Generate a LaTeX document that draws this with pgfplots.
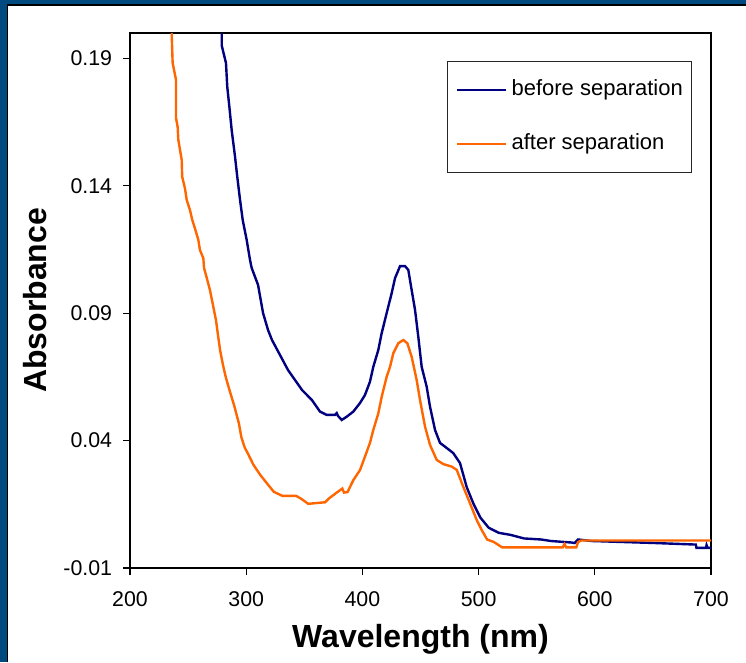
\documentclass[border=0pt]{standalone}
\usepackage{pgfplots}
\pgfplotsset{compat=1.18}
\usepackage{fontspec}
\setmainfont{Liberation Sans}
\definecolor{frameblue}{RGB}{0,74,128}
\definecolor{bluecurve}{RGB}{0,0,128}
\definecolor{orangecurve}{RGB}{255,102,0}
\begin{document}
\begin{tikzpicture}
\fill[frameblue] (0,0) rectangle (559.5pt,496.5pt);
\fill[white] (6.2pt,0) rectangle (559.5pt,492.2pt);
\draw[black, line width=1.1pt] (5.6pt,0) -- (5.6pt,492.8pt) -- (559.5pt,492.8pt);
\begin{axis}[
  at={(97.5pt,70.5pt)}, anchor=south west,
  scale only axis, width=435.75pt, height=401.25pt,
  xmin=200, xmax=700, ymin=-0.01, ymax=0.2,
  xtick={200,300,400,500,600,700}, xticklabels={200,300,400,500,600,700},
  ytick={-0.01,0.04,0.09,0.14,0.19}, yticklabels={-0.01,0.04,0.09,0.14,0.19},
  tick align=outside, xtick pos=bottom, ytick pos=left,
  major tick length=5.25pt,
  axis line style={line width=1.5pt},
  every tick/.style={black, line width=0.8pt},
  tick label style={font=\fontsize{16}{19}\selectfont},
  xticklabel style={anchor=north, inner sep=0pt, yshift=-12pt},
  yticklabel style={anchor=east, inner sep=0pt, xshift=-8pt},
  xlabel={\textbf{Wavelength (nm)}},
  ylabel={\textbf{Absorbance}},
  label style={font=\fontsize{24}{28}\selectfont},
  xlabel style={at={(axis description cs:0.5,-0.1477)}, anchor=base},
  ylabel style={at={(axis description cs:-0.1429,0.5)}, anchor=base},
  legend style={at={(axis description cs:0.9673,0.9477)}, anchor=north east,
    draw=black!85, line width=0.75pt, inner xsep=6.5pt, inner ysep=13.5pt,
    font=\fontsize{16.5}{19}\selectfont, row sep=25pt, column sep=3.75pt,
    nodes={inner sep=0pt, text height=12pt, text depth=3.5pt, anchor=west}},
  legend cell align=left,
]
\addlegendimage{bluecurve, legend image code/.code={\draw[draw=bluecurve, line width=1.2pt] (0pt,0pt) -- (36.75pt,0pt);}}
\addlegendentry{before separation}
\addlegendimage{orangecurve, legend image code/.code={\draw[draw=orangecurve, line width=1.2pt] (0pt,0pt) -- (36.75pt,0pt);}}
\addlegendentry{after separation}
\addplot[bluecurve, line width=1.8pt, forget plot] coordinates {
(278.8,0.207) (279.0,0.195) (282.6,0.1882) (283.7,0.1789) (285.5,0.1711)
(287.5,0.1619) (290.4,0.1514) (292.3,0.1436) (294.7,0.1345) (297.0,0.1266)
(300.4,0.1188) (303.3,0.1109) (304.7,0.1078) (310.2,0.1011) (314.5,0.0901)
(318.8,0.0834) (322.2,0.0795) (329.1,0.0736) (336.0,0.0677) (342.0,0.0638)
(348.0,0.0599) (356.6,0.0559) (363.5,0.0514) (369.3,0.0501) (376.4,0.0501)
(377.9,0.0508) (379.0,0.0497) (382.2,0.0481) (386.5,0.0494) (392.2,0.0514)
(398.0,0.0548) (402.2,0.0579) (406.5,0.0631) (409.4,0.0690) (413.7,0.0756)
(416.6,0.0822) (420.9,0.0901) (425.2,0.0979) (428.1,0.1038) (432.4,0.1085)
(436.7,0.1085) (439.5,0.1070) (442.4,0.0991) (445.3,0.0913) (448.1,0.0808)
(451.0,0.0690) (455.3,0.0612) (458.2,0.0533) (462.5,0.0442) (466.8,0.0391)
(472.6,0.0371) (478.2,0.0351) (484.0,0.0312) (489.8,0.0217) (495.7,0.0151)
(501.5,0.0098) (508.7,0.0058) (517.4,0.0038) (527.5,0.0030) (539.1,0.0016)
(553.7,0.0012) (562.3,0.0006) (580.0,0.0000) (582.6,-0.0002) (585.6,0.0012)
(597.1,0.0006) (652.1,-0.0002) (686.9,-0.0008) (687.5,-0.0021) (695.7,-0.0021)
(696.2,-0.0010) (697.1,-0.0021) (700,-0.0021)
};
\addplot[orangecurve, line width=1.8pt, forget plot] coordinates {
(235.8,0.207) (235.9,0.1992) (236.7,0.1882) (239.6,0.1816) (239.6,0.1666)
(241.0,0.1632) (241.6,0.1580) (244.5,0.1502) (244.9,0.1436) (247.3,0.1390)
(248.8,0.1345) (251.6,0.1305) (253.6,0.1266) (255.9,0.1233) (258.8,0.1188)
(260.2,0.1148) (263.1,0.1116) (263.7,0.1078) (265.4,0.1050) (268.8,0.0991)
(271.4,0.0932) (274.0,0.0873) (275.7,0.0815) (277.5,0.0756) (280.0,0.0697)
(282.6,0.0646) (286.1,0.0591) (289.5,0.0540) (293.7,0.0468) (295.8,0.0414)
(298.7,0.0373) (301.7,0.0347) (306.1,0.0306) (312.0,0.0266) (317.9,0.0232)
(323.8,0.0199) (331.2,0.0183) (343.0,0.0183) (347.3,0.0172) (353.3,0.0152)
(368.0,0.0158) (370.9,0.0172) (377.3,0.0194) (382.7,0.0212) (384.2,0.0196)
(387.2,0.0198) (392.2,0.0245) (398.0,0.0285) (402.2,0.0337) (406.5,0.0391)
(409.4,0.0442) (413.7,0.0507) (416.6,0.0572) (420.9,0.0651) (423.8,0.0690)
(426.6,0.0743) (430.9,0.0782) (435.2,0.0795) (438.7,0.0782) (442.4,0.0729)
(446.7,0.0638) (449.6,0.0559) (453.9,0.0455) (458.2,0.0383) (464.0,0.0324)
(469.6,0.0308) (476.9,0.0298) (481.2,0.0285) (486.8,0.0219) (492.6,0.0154)
(498.4,0.0088) (502.7,0.0049) (507.3,0.0012) (513.1,0.0002) (520.3,-0.0019)
(572.4,-0.0019) (573.9,-0.0006) (575.4,-0.0019) (584.1,-0.0019) (585.6,0.0002)
(588.4,0.0008) (700,0.0008)
};
\end{axis}
\pgfresetboundingbox
\path (0,0) rectangle (559.5pt,496.5pt);
\end{tikzpicture}
\end{document}
